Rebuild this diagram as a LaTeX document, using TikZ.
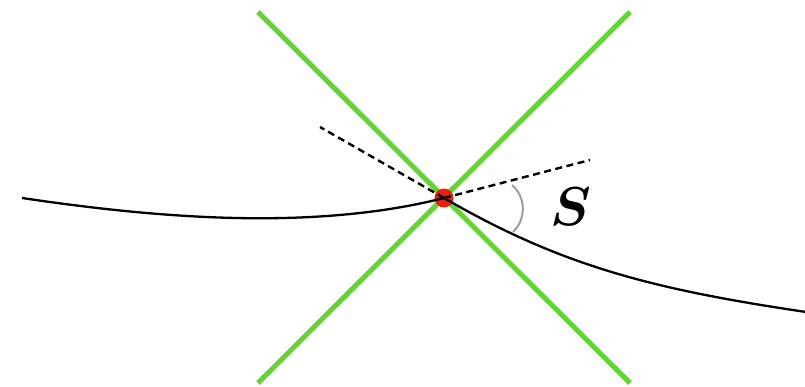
\documentclass[tikz,border=0pt]{standalone}
\usepackage{amsmath,amssymb}
\usepackage{tikz}
\usetikzlibrary{calc}
\definecolor{lgreen}{RGB}{98,212,52}
\definecolor{dotred}{RGB}{235,30,15}

\begin{document}
\begin{tikzpicture}[
    x=1pt,y=-1pt,
    guide/.style={draw=lgreen,line width=5pt},
    curve/.style={draw=black,line width=2.3pt},
    tangent/.style={draw=black,line width=2.4pt,dash pattern=on 7pt off 4.5pt},
    anglemark/.style={draw=black!38,line width=2pt},
    point/.style={circle,fill=dotred,inner sep=0pt,minimum size=19pt}
]
\useasboundingbox (0,0) rectangle (805,387);
% the two green guide lines
\coordinate (ul) at (258,12);
\coordinate (ur) at (630,12);
\coordinate (ll) at (258,383);
\coordinate (lr) at (630,383);
\draw[guide] (ul)--(lr);
\draw[guide] (ur)--(ll);
% the kink point
\node[point] (p) at (444,198) {};
% curve and its one-sided tangents
\coordinate (lend) at (22,198);
\coordinate (rend) at (806,312);
\coordinate (tl) at (320,127);
\coordinate (tr) at (590,160);
\draw[curve] (lend) .. controls (150,217) and (310,232) .. (p.center);
\draw[curve] (p.center) .. controls (563,267) and (655,289.5) .. (rend);
\draw[tangent] (p.center)--(tl);
\draw[tangent] (p.center)--(tr);
% angle mark
\coordinate (a1) at (512,185);
\coordinate (a2) at (513,232);
\draw[anglemark] (a1) .. controls (526,197) and (526.5,219) .. (a2);
\node[font=\Huge,scale=2.2] (s) at (571,207) {$\boldsymbol{S}$};
\end{tikzpicture}
\end{document}
